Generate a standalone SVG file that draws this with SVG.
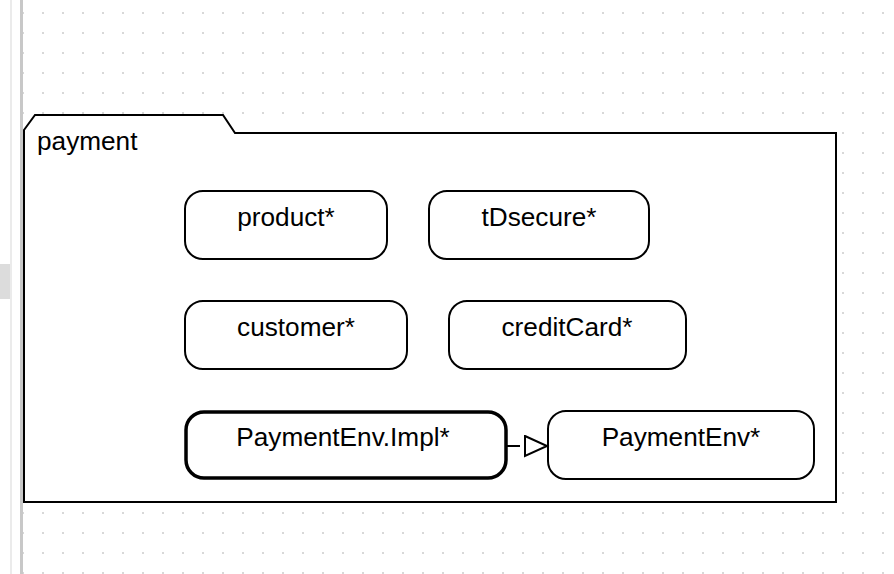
<svg xmlns="http://www.w3.org/2000/svg" width="894" height="574" viewBox="0 0 894 574">
  <defs>
    <pattern id="dots" patternUnits="userSpaceOnUse" x="13" y="3" width="20" height="20">
      <circle cx="10" cy="10" r="1.1" fill="#cfcfcf"/>
    </pattern>
    <marker id="realize" markerUnits="userSpaceOnUse" markerWidth="32" markerHeight="26" refX="0" refY="11" orient="auto">
      <path d="M5,1 L27,11 L5,21 Z" fill="#fff" stroke="#000" stroke-width="2"/>
    </marker>
    <style>
      .node rect { fill: #fff; stroke: #000; stroke-width: 2; }
      .node.thick rect { stroke-width: 3.5; }
      text { font-family: "Liberation Sans", Arial, sans-serif; font-size: 26.2px; fill: #000; }
      .node text { text-anchor: middle; }
      .conn { stroke: #000; stroke-width: 2; fill: none; }
    </style>
  </defs>

  <!-- background -->
  <rect x="0" y="0" width="894" height="574" fill="#fff"/>
  <rect x="22" y="0" width="872" height="574" fill="url(#dots)"/>
  <rect x="0" y="264" width="10" height="35" fill="#dcdcdc"/>
  <rect x="10" y="0" width="2" height="574" fill="#ebebeb"/>
  <rect x="20" y="0" width="3" height="574" fill="#c8c8c8"/>

  <!-- package -->
  <g id="payment">
    <path d="M24,502 L24,130 L35,115 L223,115 L235,133 L836,133 L836,502 Z" fill="#fff" stroke="#000" stroke-width="2"/>
    <text x="37" y="150">payment</text>
  </g>

  <g id="product" class="node">
    <rect x="185" y="191" width="202" height="68" rx="18"/>
    <text x="286" y="226">product*</text>
  </g>
  <g id="tDsecure" class="node">
    <rect x="429" y="191" width="220" height="68" rx="18"/>
    <text x="539" y="226">tDsecure*</text>
  </g>
  <g id="customer" class="node">
    <rect x="185" y="301" width="222" height="68" rx="18"/>
    <text x="296" y="336">customer*</text>
  </g>
  <g id="creditCard" class="node">
    <rect x="449" y="301" width="237" height="68" rx="18"/>
    <text x="567" y="336">creditCard*</text>
  </g>
  <g id="PaymentEnvImpl" class="node thick">
    <rect x="186" y="412" width="320" height="66" rx="18"/>
    <text x="343" y="446">PaymentEnv.Impl*</text>
  </g>
  <g id="PaymentEnv" class="node">
    <rect x="548" y="411" width="266" height="68" rx="18"/>
    <text x="681" y="446">PaymentEnv*</text>
  </g>

  <g id="connectors">
    <path class="conn" d="M507,446 L520,446" marker-end="url(#realize)"/>
  </g>
</svg>
